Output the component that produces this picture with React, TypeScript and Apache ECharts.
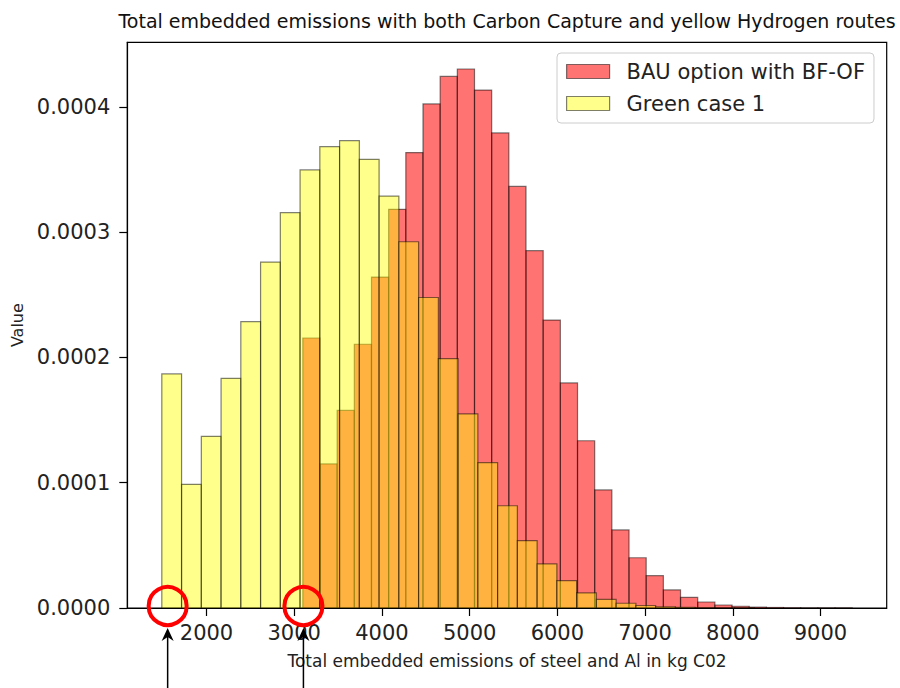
import React, { useEffect, useRef } from "react";
import * as echarts from "echarts";

// ---- data (density per bin) ----
const seriesNames = ["BAU option with BF-OF", "Green case 1"];

const redStart = 3098;
const redBinWidth = 195.75;
const redDensity = [
  0.0002155, 0.000115, 0.0001577, 0.0002105, 0.0002641, 0.0003182, 0.0003635,
  0.0004023, 0.0004243, 0.0004302, 0.0004134, 0.0003792, 0.0003365, 0.0002852,
  0.0002298, 0.0001796, 0.0001335, 0.0000942, 0.0000623, 0.0000401, 0.0000258,
  0.0000144, 0.0000085, 0.0000048, 0.0000024, 0.0000014, 0.0000007, 0.0000004,
  0.0000002, 0.0000001, 0.0000001, 0.0000001,
];

const yellowStart = 1490.5;
const yellowBinWidth = 225.2;
const yellowDensity = [
  0.0001868, 0.0000987, 0.000137, 0.0001833, 0.0002285, 0.0002761, 0.0003155,
  0.0003496, 0.0003682, 0.000373, 0.0003581, 0.0003288, 0.0002923, 0.0002478,
  0.000199, 0.0001549, 0.0001161, 0.0000816, 0.0000537, 0.0000352, 0.0000218,
  0.0000121, 0.0000069, 0.0000038, 0.000002, 0.000001, 0.0000005, 0.0000002,
  0.0000001, 0.0000001,
];

const xTicks = [2000, 3000, 4000, 5000, 6000, 7000, 8000, 9000];
const yTicks = [0, 0.0001, 0.0002, 0.0003, 0.0004];
const xMin = 1097;
const xMax = 9755;
const yMax = 0.0004515;

const titleText =
  "Total embedded emissions with both Carbon Capture and yellow Hydrogen routes";
const xLabel = "Total embedded emissions of steel and Al in kg C02";
const yLabel = "Value";

// x positions (data units) of the two highlighted starting points
const annotationX = [1557, 3105];

const FONT = "DejaVu Sans";
const RED_FILL = "rgba(255,0,0,0.55)";
const YELLOW_FILL = "rgba(255,255,0,0.45)";
const EDGE = "rgba(0,0,0,0.5)";

function toBins(start: number, width: number, dens: number[]) {
  return dens.map((d, i) => [start + i * width, start + (i + 1) * width, d]);
}

function makeRender(fill: string) {
  return (params: any, api: any) => {
    const x0 = api.value(0);
    const x1 = api.value(1);
    const h = api.value(2);
    const p0 = api.coord([x0, h]);
    const p1 = api.coord([x1, 0]);
    return {
      type: "rect",
      shape: { x: p0[0], y: p0[1], width: p1[0] - p0[0], height: p1[1] - p0[1] },
      style: { fill, stroke: EDGE, lineWidth: 1.2 },
    };
  };
}

export default function App() {
  const ref = useRef<HTMLDivElement>(null);

  useEffect(() => {
    if (!ref.current) return;
    const chart = echarts.init(ref.current, null, { renderer: "svg" });
    const option: any = {
      animation: false,
      backgroundColor: "#ffffff",
      title: {
        text: titleText,
        left: 507,
        top: 11,
        padding: 0,
        textAlign: "center",
        textStyle: { fontFamily: FONT, fontSize: 19, fontWeight: "normal", color: "#111" },
      },
      grid: {
        left: 127.3,
        right: 13.3,
        top: 42.3,
        bottom: 80,
        show: true,
        borderColor: "#000",
        borderWidth: 1.2,
        backgroundColor: "transparent",
      },
      legend: {
        orient: "vertical",
        left: 557,
        top: 53,
        padding: [8, 9, 9, 9],
        itemGap: 11,
        itemWidth: 43,
        itemHeight: 14,
        backgroundColor: "rgba(255,255,255,0.8)",
        borderColor: "#cccccc",
        borderWidth: 1,
        borderRadius: 4,
        textStyle: { fontFamily: FONT, fontSize: 21, color: "#222", padding: [0, 0, 0, 12] },
        data: [
          { name: seriesNames[0], icon: "rect", itemStyle: { color: RED_FILL, borderColor: EDGE, borderWidth: 1.2 } },
          { name: seriesNames[1], icon: "rect", itemStyle: { color: YELLOW_FILL, borderColor: EDGE, borderWidth: 1.2 } },
        ],
      },
      xAxis: {
        type: "value",
        min: xMin,
        max: xMax,
        name: xLabel,
        nameLocation: "middle",
        nameGap: 44,
        nameTextStyle: { fontFamily: FONT, fontSize: 17, color: "#222" },
        axisLine: { show: true, onZero: false, lineStyle: { color: "#000", width: 1.2 } },
        axisTick: { show: true, length: 8, customValues: xTicks, lineStyle: { color: "#000", width: 1.2 } },
        axisLabel: {
          customValues: xTicks,
          margin: 14,
          fontFamily: FONT,
          fontSize: 21,
          color: "#222",
          formatter: (v: number) => String(v),
        },
        splitLine: { show: false },
      },
      yAxis: {
        type: "value",
        min: 0,
        max: yMax,
        name: yLabel,
        nameLocation: "middle",
        nameGap: 101,
        nameTextStyle: { fontFamily: FONT, fontSize: 16, color: "#222" },
        axisLine: { show: true, lineStyle: { color: "#000", width: 1.2 } },
        axisTick: { show: true, length: 8, customValues: yTicks, lineStyle: { color: "#000", width: 1.2 } },
        axisLabel: {
          customValues: yTicks,
          margin: 17,
          fontFamily: FONT,
          fontSize: 21,
          color: "#222",
          formatter: (v: number) => v.toFixed(4),
        },
        splitLine: { show: false },
      },
      series: [
        {
          name: seriesNames[0],
          type: "custom",
          renderItem: makeRender(RED_FILL),
          itemStyle: { color: RED_FILL, borderColor: EDGE },
          encode: { x: [0, 1], y: 2 },
          data: toBins(redStart, redBinWidth, redDensity),
        },
        {
          name: seriesNames[1],
          type: "custom",
          renderItem: makeRender(YELLOW_FILL),
          itemStyle: { color: YELLOW_FILL, borderColor: EDGE },
          encode: { x: [0, 1], y: 2 },
          data: toBins(yellowStart, yellowBinWidth, yellowDensity),
        },
      ],
    };
    chart.setOption(option);

    const graphics: any[] = [];
    annotationX.forEach((v) => {
      const p = chart.convertToPixel({ gridIndex: 0 }, [v, 0]) as number[];
      const cx = p[0];
      const cy = p[1] - 2;
      graphics.push({
        type: "circle",
        shape: { cx, cy, r: 19 },
        style: { fill: "none", stroke: "#ff0000", lineWidth: 4 },
        z: 100,
      });
      const tipY = cy + 22;
      graphics.push({
        type: "line",
        shape: { x1: cx, y1: 700, x2: cx, y2: tipY + 6 },
        style: { stroke: "#000", lineWidth: 1.5 },
        z: 100,
      });
      graphics.push({
        type: "polygon",
        shape: {
          points: [
            [cx, tipY],
            [cx - 6, tipY + 13],
            [cx, tipY + 9],
            [cx + 6, tipY + 13],
          ],
        },
        style: { fill: "#000", stroke: "none" },
        z: 100,
      });
    });
    chart.setOption({ graphic: graphics });

    return () => chart.dispose();
  }, []);

  return (
    <div
      ref={ref}
      style={{ position: "absolute", left: 0, top: 0, width: 900, height: 688 }}
    />
  );
}
